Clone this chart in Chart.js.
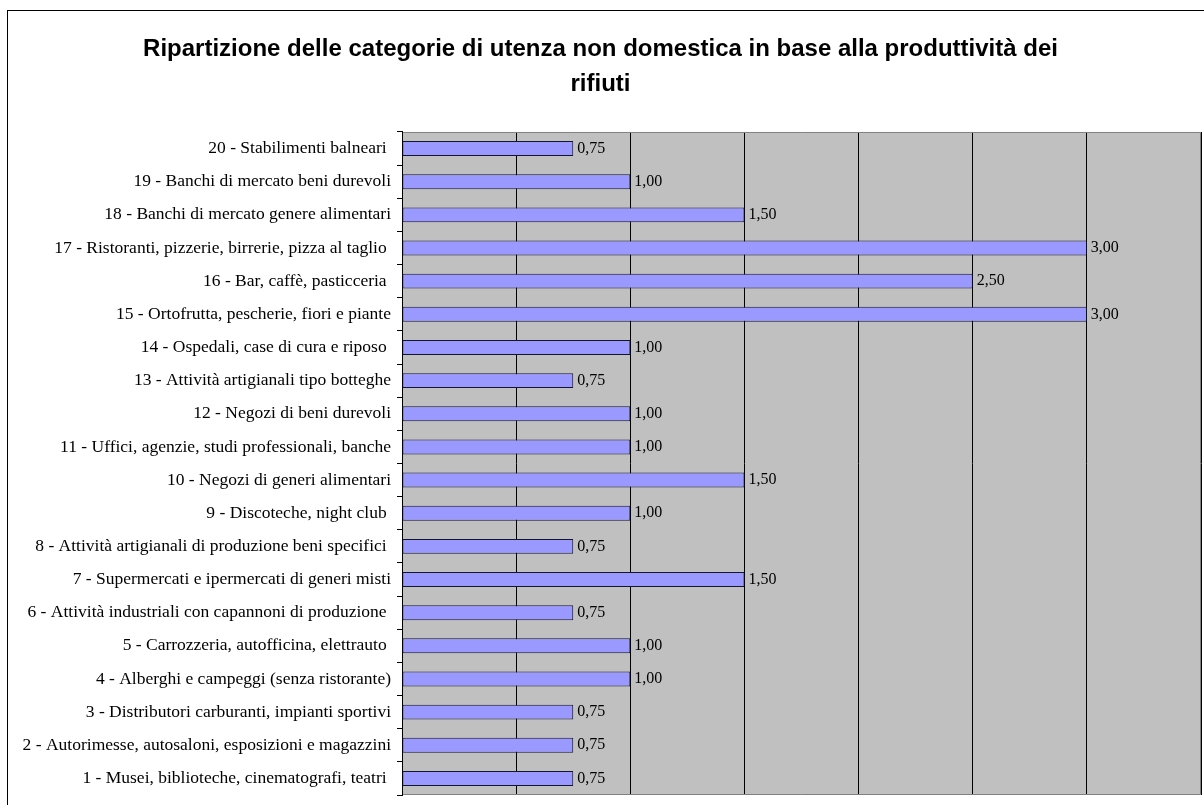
<!DOCTYPE html>
<html>
<head>
    <title>Ripartizione utenze non domestiche</title>
    <style>
        body {
            margin: 0;
            padding: 0;
            background: #fff;
        }
    </style>
</head>
<body>
    <canvas id="chart" width="1204" height="805"></canvas>
    <script src="https://cdn.jsdelivr.net/npm/chart.js"></script>
    <script>
        // categories from 1 to 20 (drawn top to bottom from 20 down to 1)
        var categorie = [
            "1 - Musei, biblioteche, cinematografi, teatri ",
            "2 - Autorimesse, autosaloni, esposizioni e magazzini",
            "3 - Distributori carburanti, impianti sportivi",
            "4 - Alberghi e campeggi (senza ristorante)",
            "5 - Carrozzeria, autofficina, elettrauto ",
            "6 - Attività industriali con capannoni di produzione ",
            "7 - Supermercati e ipermercati di generi misti",
            "8 - Attività artigianali di produzione beni specifici ",
            "9 - Discoteche, night club ",
            "10 - Negozi di generi alimentari",
            "11 - Uffici, agenzie, studi professionali, banche",
            "12 - Negozi di beni durevoli",
            "13 - Attività artigianali tipo botteghe",
            "14 - Ospedali, case di cura e riposo ",
            "15 - Ortofrutta, pescherie, fiori e piante",
            "16 - Bar, caffè, pasticceria ",
            "17 - Ristoranti, pizzerie, birrerie, pizza al taglio ",
            "18 - Banchi di mercato genere alimentari",
            "19 - Banchi di mercato beni durevoli",
            "20 - Stabilimenti balneari "
        ];
        var produttivita = [0.75, 0.75, 0.75, 1.00, 1.00, 0.75, 1.50, 0.75, 1.00, 1.50,
                            1.00, 1.00, 0.75, 1.00, 3.00, 2.50, 3.00, 1.50, 1.00, 0.75];
        var titolo = [
            "Ripartizione delle categorie di utenza non domestica in base alla produttività dei",
            "rifiuti"
        ];
        var asseMin = 0;
        var asseMax = 3.5;
        var passo = 0.5;

        var serif = "'Liberation Serif', 'DejaVu Serif', serif";

        // white page, outer frame and grey plot area
        var sfondo = {
            id: 'sfondo',
            beforeDraw: function(chart) {
                var ctx = chart.ctx;
                var a = chart.chartArea;
                ctx.save();
                ctx.fillStyle = '#ffffff';
                ctx.fillRect(0, 0, chart.width, chart.height);
                ctx.strokeStyle = '#000000';
                ctx.lineWidth = 1;
                ctx.strokeRect(7.5, 10.5, chart.width + 10, chart.height + 10);
                ctx.fillStyle = '#c0c0c0';
                ctx.fillRect(a.left, a.top, a.right - a.left, a.bottom - a.top);
                ctx.restore();
            },
            afterDraw: function(chart) {
                var ctx = chart.ctx;
                var a = chart.chartArea;
                ctx.save();
                ctx.strokeStyle = '#808080';
                ctx.lineWidth = 1;
                ctx.beginPath();
                ctx.moveTo(a.left, a.top + 0.5);
                ctx.lineTo(a.right - 0.5, a.top + 0.5);
                ctx.lineTo(a.right - 0.5, a.bottom - 0.5);
                ctx.lineTo(a.left, a.bottom - 0.5);
                ctx.stroke();
                ctx.strokeStyle = '#000000';
                ctx.beginPath();
                ctx.moveTo(a.left + 0.5, a.top);
                ctx.lineTo(a.left + 0.5, a.bottom);
                ctx.stroke();
                ctx.restore();
            }
        };

        // value labels at the end of each bar
        var etichette = {
            id: 'etichette',
            afterDatasetsDraw: function(chart) {
                var ctx = chart.ctx;
                var meta = chart.getDatasetMeta(0);
                ctx.save();
                ctx.font = '16px ' + serif;
                ctx.fillStyle = '#000000';
                ctx.textAlign = 'left';
                ctx.textBaseline = 'middle';
                meta.data.forEach(function(bar, i) {
                    var v = chart.data.datasets[0].data[i];
                    ctx.fillText(v.toFixed(2).replace('.', ','), bar.x + 4, bar.y);
                });
                ctx.restore();
            }
        };

        new Chart(document.getElementById('chart'), {
            type: 'bar',
            data: {
                labels: categorie.slice().reverse(),
                datasets: [{
                    data: produttivita.slice().reverse(),
                    backgroundColor: '#9999ff',
                    borderColor: '#14142e',
                    borderWidth: 1,
                    borderSkipped: false,
                    categoryPercentage: 1,
                    barPercentage: 0.45
                }]
            },
            options: {
                indexAxis: 'y',
                responsive: false,
                animation: false,
                layout: {
                    padding: { left: 0, right: 3, top: 0, bottom: 10 }
                },
                plugins: {
                    legend: { display: false },
                    tooltip: { enabled: false },
                    title: {
                        display: true,
                        text: titolo,
                        color: '#000000',
                        font: { family: "'Liberation Sans', Arial, sans-serif", size: 24, weight: 'bold', lineHeight: 1.458 },
                        padding: { top: 32, bottom: 30 }
                    }
                },
                scales: {
                    x: {
                        min: asseMin,
                        max: asseMax,
                        ticks: { display: false, stepSize: passo },
                        grid: { color: '#000000', lineWidth: 1, drawTicks: false },
                        border: { display: false },
                        afterFit: function(s) { s.height = 0; }
                    },
                    y: {
                        ticks: {
                            color: '#000000',
                            font: { family: serif, size: 17.5 },
                            padding: 6,
                            autoSkip: false
                        },
                        grid: {
                            drawOnChartArea: false,
                            drawTicks: true,
                            tickLength: 5,
                            color: '#000000',
                            offset: true
                        },
                        border: { display: true, color: '#000000' },
                        afterFit: function(s) {
                            s.width = 402;
                            s.paddingTop = 0;
                            s.paddingBottom = 0;
                        }
                    }
                }
            },
            plugins: [sfondo, etichette]
        });
    </script>
</body>
</html>
